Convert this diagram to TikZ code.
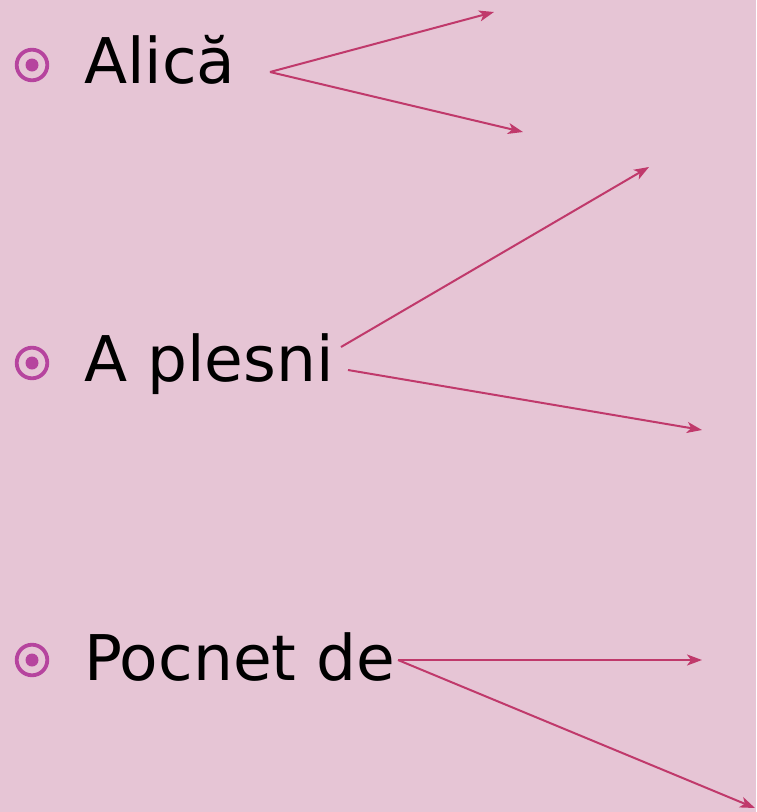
\documentclass[tikz,border=0pt]{standalone}
\usepackage{fontspec}
\setmainfont{DejaVu Sans}
\usetikzlibrary{arrows.meta}
\definecolor{bgpink}{HTML}{E6C5D5}
\definecolor{bulletc}{HTML}{B6449E}
\definecolor{arrowc}{HTML}{C0396B}
\tikzset{
  item/.style={anchor=base west, inner sep=0pt, font=\fontsize{63}{65}\selectfont, text=black},
  arr/.style={draw=arrowc, line width=2pt, -{Stealth[length=15pt,width=11pt,inset=4pt]}},
  bul/.pic={\draw[bulletc, line width=3.8pt] (0,0) circle (15.3pt); \fill[bulletc] (0,0) circle (6.5pt);}
}
\begin{document}
\begin{tikzpicture}[x=1pt,y=-1pt]
\fill[bgpink] (0,0) rectangle (756,812);
\useasboundingbox (0,0) rectangle (756,812);
\pic at (32,65) {bul};
\pic at (32,363) {bul};
\pic at (32,660) {bul};
\node[item] (t1) at (84,83) {Alică};
\node[item] (t2) at (84,381) {A plesni};
\node[item] (t3) at (84,680) {Pocnet de};
\coordinate (s1) at (270,72);
\coordinate (s2) at (341,347);
\coordinate (s3) at (348,370);
\coordinate (s4) at (398,660);
\coordinate (e1) at (494,12);
\coordinate (e2) at (523,132);
\coordinate (e3) at (649,167);
\coordinate (e4) at (702,430);
\coordinate (e5) at (702,660);
\coordinate (e6) at (755,808);
\draw[arr] (s1) -- (e1);
\draw[arr] (s1) -- (e2);
\draw[arr] (s2) -- (e3);
\draw[arr] (s3) -- (e4);
\draw[arr] (s4) -- (e5);
\draw[arr] (s4) -- (e6);
\end{tikzpicture}
\end{document}
